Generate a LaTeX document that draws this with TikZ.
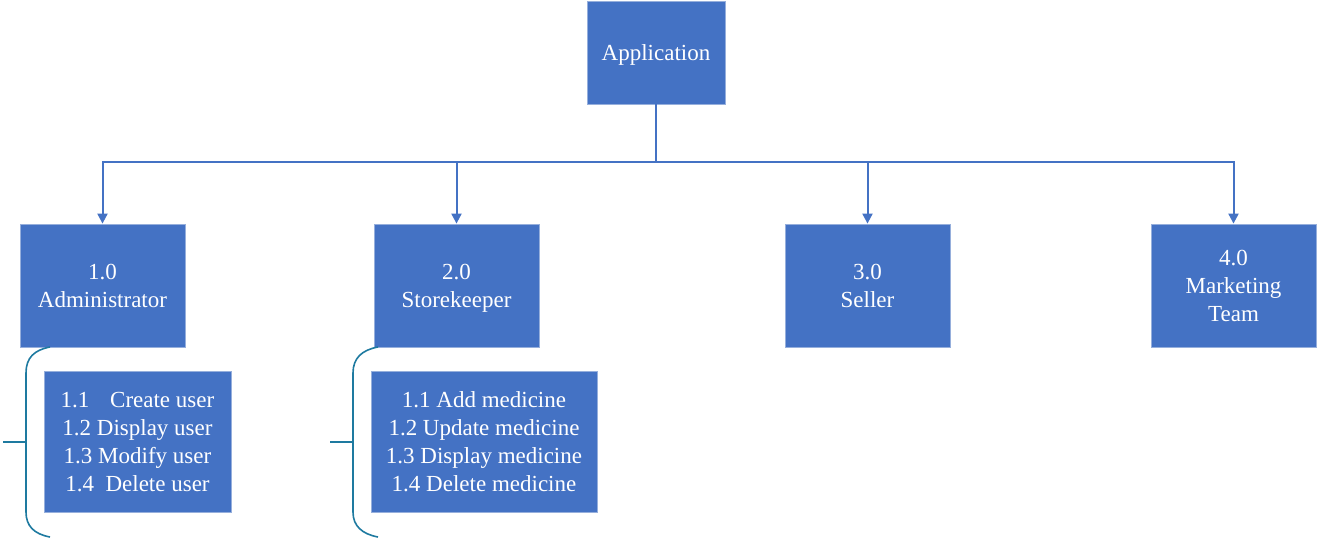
\documentclass[tikz,border=0pt]{standalone}
\usepackage{fontspec}
\setmainfont{Liberation Serif}
\usetikzlibrary{arrows.meta}
\definecolor{boxblue}{RGB}{68,114,196}
\definecolor{boxedge}{RGB}{150,175,220}
\definecolor{bracecol}{RGB}{30,122,160}
\newcommand\lstrut{\rule[-6pt]{0pt}{28pt}}
\begin{document}
\begin{tikzpicture}[x=1pt,y=-1pt,
  box/.style={fill=boxblue,draw=boxedge,line width=0.8pt,inner sep=0pt,
    text=white,align=center,font=\fontsize{23}{28}\selectfont},
  conn/.style={draw=boxblue,line width=2pt},
  arr/.style={conn,-{Triangle[length=10pt,width=10pt]}},
  brace/.style={draw=bracecol,line width=1.6pt}]
\useasboundingbox (0,0) rectangle (1318,538);
\node[box,minimum width=138pt,minimum height=103pt] (app) at (656,52.5) {\lstrut Application};
\node[box,minimum width=165pt,minimum height=123pt] (b1) at (102.5,285.5) {\lstrut 1.0\\\lstrut Administrator};
\node[box,minimum width=165pt,minimum height=123pt] (b2) at (456.5,285.5) {\lstrut 2.0\\\lstrut Storekeeper};
\node[box,minimum width=165pt,minimum height=123pt] (b3) at (867.5,285.5) {\lstrut 3.0\\\lstrut Seller};
\node[box,minimum width=165pt,minimum height=123pt] (b4) at (1233.5,285.5) {\lstrut 4.0\\\lstrut Marketing\\\lstrut Team};
\node[box,minimum width=187pt,minimum height=141pt] (s1) at (137.5,441.5)
  {\lstrut 1.1\hspace{0.9em}Create user\\\lstrut 1.2 Display user\\\lstrut 1.3 Modify user\\\lstrut 1.4\hspace{0.5em}Delete user};
\node[box,minimum width=226pt,minimum height=141pt] (s2) at (484,441.5)
  {\lstrut 1.1 Add medicine\\\lstrut 1.2 Update medicine\\\lstrut 1.3 Display medicine\\\lstrut 1.4 Delete medicine};
\coordinate (j) at (656,162);
\draw[conn] (app.south) -- (j);
\draw[arr] (j) -| (b1.north);
\draw[arr] (j) -| (b2.north);
\draw[arr] (j) -| (b3.north);
\draw[arr] (j) -| (b4.north);
% braces
\draw[brace] (50,347) .. controls (34,350) and (26,358) .. (26,373) -- (26,512)
  .. controls (26,526) and (34,534) .. (50,537);
\draw[brace] (3,442) -- (26,442);
\draw[brace] (378,347) .. controls (362,350) and (353,358) .. (353,373) -- (353,512)
  .. controls (353,526) and (362,534) .. (378,537);
\draw[brace] (330,442) -- (353,442);
\end{tikzpicture}
\end{document}
